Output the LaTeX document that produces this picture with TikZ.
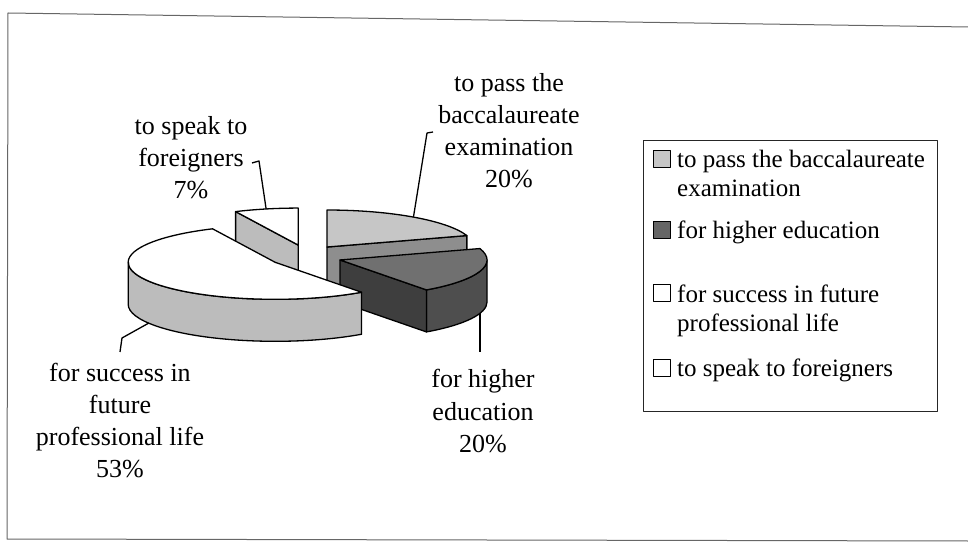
\documentclass[tikz,border=0pt]{standalone}
\usepackage{fontspec}
\setmainfont{Liberation Serif}
\usetikzlibrary{calc}

% face shades of the exploded 3-D pie
\definecolor{gLight}{HTML}{C6C6C6}
\definecolor{gBaccCut}{HTML}{8E8E8E}
\definecolor{gDarkTop}{HTML}{707070}
\definecolor{gDarkCut}{HTML}{3E3E3E}
\definecolor{gDarkSide}{HTML}{4E4E4E}
\definecolor{gSide}{HTML}{BCBCBC}
\definecolor{gFrame}{HTML}{666666}

\begin{document}
\begin{tikzpicture}[x=1pt,y=1pt,line join=round,
  face/.style={draw=black,line width=1.3pt},
  leader/.style={draw=black,line width=1.3pt},
  lbl/.style={align=center,inner sep=0pt,anchor=base,font=\fontsize{26}{32}\selectfont},
  leg/.style={align=left,inner sep=0pt,anchor=base west,font=\fontsize{25}{29.5}\selectfont},
  swatch/.style={draw=black,line width=1.1pt,minimum size=17pt,inner sep=0pt,anchor=south west},
  legbox/.style={draw=black!85,line width=1.4pt,minimum width=294pt,minimum height=271pt,inner sep=0pt,anchor=north west}]

\useasboundingbox (0,0) rectangle (968,554);

% outer frame
\draw[gFrame,line width=1pt] (968,527) -- (8,541) -- (7,15) -- (968,13);

% pie geometry: half axes and thickness
\def\pieA{147}
\def\pieB{37}
\def\pieH{42}

\coordinate (C) at (306,297.6);
% exploded slice centres (mid angles of each slice)
\foreach \n/\m in {F/102.6,B/54,D/-18,W/210.6}
  \coordinate (c\n) at ($(C)+({35.8*cos(\m)},{11.6*sin(\m)})$);

% rim points
\foreach \n/\p/\m in {F/F90/90,F/F115/115.2,F/Fm/102.6,
                      B/B90/90,B/B18/18,B/Bm/54,
                      D/D18/18,D/Dq/-54,D/Dm/-18,
                      W/W306/306,W/W180/180,W/Wm/210.6}
  \coordinate (\p) at ($(c\n)+({\pieA*cos(\m)},{\pieB*sin(\m)})$);

% slice: to speak to foreigners (7%)
\filldraw[face,fill=gSide] (cF) -- (F115) -- ++(0,-\pieH) -- ($(cF)+(0,-\pieH)$) -- cycle;
\filldraw[face,fill=white] (cF) -- (F90)
  arc[start angle=90,end angle=115.2,x radius=\pieA,y radius=\pieB] -- cycle;

% slice: to pass the baccalaureate examination (20%)
\filldraw[face,fill=gBaccCut] (cB) -- (B18) -- ++(0,-\pieH) -- ($(cB)+(0,-\pieH)$) -- cycle;
\filldraw[face,fill=gLight] (cB) -- (B90)
  arc[start angle=90,end angle=18,x radius=\pieA,y radius=\pieB] -- cycle;

% slice: for higher education (20%)
\filldraw[face,fill=gDarkSide] (Dq)
  arc[start angle=-54,end angle=0,x radius=\pieA,y radius=\pieB] -- ++(0,-\pieH)
  arc[start angle=0,end angle=-54,x radius=\pieA,y radius=\pieB] -- cycle;
\filldraw[face,fill=gDarkCut] (cD) -- (Dq) -- ++(0,-\pieH) -- ($(cD)+(0,-\pieH)$) -- cycle;
\filldraw[face,fill=gDarkTop] (cD) -- (D18)
  arc[start angle=18,end angle=-54,x radius=\pieA,y radius=\pieB] -- cycle;

% slice: for success in future professional life (53%)
\filldraw[face,fill=gSide] (W180)
  arc[start angle=180,end angle=306,x radius=\pieA,y radius=\pieB] -- ++(0,-\pieH)
  arc[start angle=306,end angle=180,x radius=\pieA,y radius=\pieB] -- cycle;
\filldraw[face,fill=white] (cW) -- (W306)
  arc[start angle=306,end angle=115.2,x radius=\pieA,y radius=\pieB] -- cycle;

% data labels (anchored at the baseline of their last line)
\node[lbl] (lF) at (191,355) {to speak to\\foreigners\\7\%};
\node[lbl] (lB) at (509,366) {to pass the\\baccalaureate\\examination\\20\%};
\node[lbl] (lD) at (483,102) {for higher\\education\\20\%};
\node[lbl] (lW) at (120,77) {for success in\\future\\professional life\\53\%};

% leader lines
\coordinate (Fa) at (252,391);
\coordinate (Fk) at (259,393);
\draw[leader] (Fa) -- (Fk) -- (Fm);

\coordinate (Ba) at (433,422);
\coordinate (Bk) at (427,421);
\draw[leader] (Ba) -- (Bk) -- (Bm);

\coordinate (Db) at ($(Dm)+(0,-\pieH)$);
\coordinate (De) at ($(Dm)+(0,-80.6)$);
\draw[leader] (Db) -- (De);

\coordinate (Wb) at ($(Wm)+(0,-\pieH)$);
\coordinate (Wk) at (122,216);
\coordinate (We) at (120,202);
\draw[leader] (Wb) -- (Wk) -- (We);

% legend
\node[legbox] (legend) at (643,414) {};
\node[swatch,fill=gLight] (s1) at (653,386) {};
\node[leg] (t1) at (677,357) {to pass the baccalaureate\\examination};
\node[swatch,fill=gDarkTop!90!black] (s2) at (653,315) {};
\node[leg] (t2) at (677,315) {for higher education};
\node[swatch,fill=white] (s3) at (653,252) {};
\node[leg] (t3) at (677,222) {for success in future\\professional life};
\node[swatch,fill=white] (s4) at (653,177) {};
\node[leg] (t4) at (677,177) {to speak to foreigners};

\end{tikzpicture}
\end{document}
